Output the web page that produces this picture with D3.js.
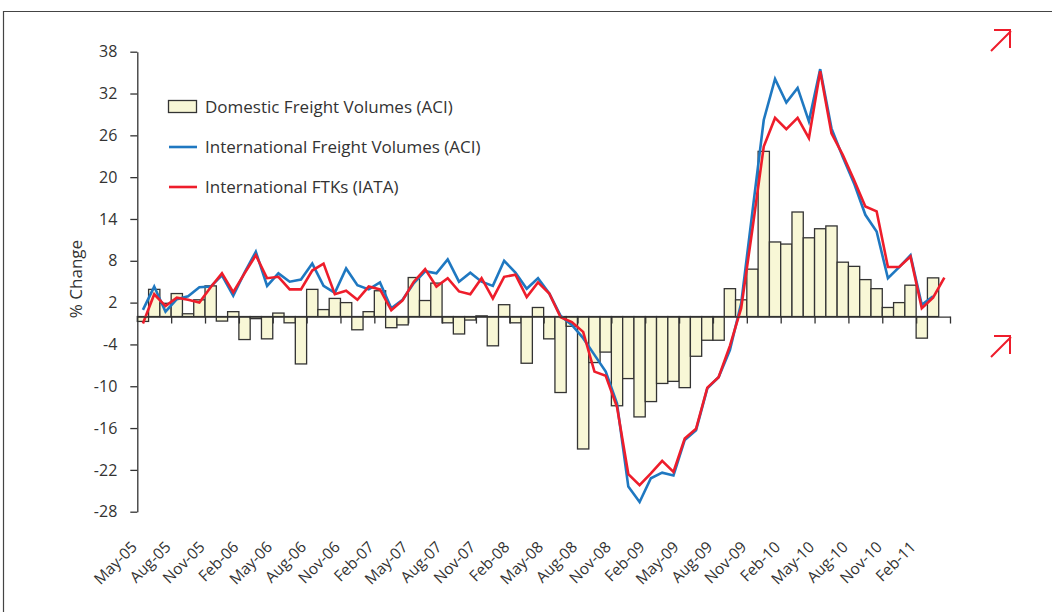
<!DOCTYPE html>
<html>
<head>
<meta charset="utf-8">
<script src="https://cdn.jsdelivr.net/npm/d3@7"></script>
<style>
  body { margin: 0; background: #fff; }
  text { font-family: "Open Sans", "Noto Sans", sans-serif; fill: #333; }
</style>
</head>
<body>
<div id="chart"></div>
<script>
// months May-05 .. Apr-11
var months = [];
var monNames = ["Jan","Feb","Mar","Apr","May","Jun","Jul","Aug","Sep","Oct","Nov","Dec"];
for (var k = 0; k < 72; k++) {
  var m = (4 + k) % 12, yr = 5 + Math.floor((4 + k) / 12);
  months.push(monNames[m] + "-" + (yr < 10 ? "0" + yr : "" + yr));
}

var yTicks = [38, 32, 26, 20, 14, 8, 2, -4, -10, -16, -22, -28];

// Domestic Freight Volumes (ACI), % change
var domestic = [
  -0.7, 3.9, 1.9, 3.3, 0.4, 2.4, 4.4, -0.65, 0.7, -3.3, -0.3, -3.2,
  0.5, -0.9, -6.8, 3.9, 1.0, 2.6, 2.0, -1.9, 0.7, 3.7, -1.6, -1.2,
  5.6, 2.3, 4.8, -0.9, -2.5, -0.5, 0.1, -4.2, 1.7, -0.9, -6.7, 1.3,
  -3.2, -10.9, -1.4, -19.0, -6.6, -5.1, -12.8, -8.9, -14.4, -12.2, -9.6, -9.3,
  -10.2, -5.7, -3.4, -3.4, 4.0, 2.4, 6.8, 23.7, 10.7, 10.4, 15.0, 11.3,
  12.6, 13.0, 7.8, 7.2, 5.3, 4.0, 1.3, 2.0, 4.5, -3.1, 5.55, null
];

// International Freight Volumes (ACI)
var intlACI = [
  0.95, 4.3, 0.7, 2.5, 2.9, 4.2, 4.3, 5.9, 3.0, 6.3, 9.3, 4.4,
  6.2, 5.0, 5.3, 7.6, 4.4, 3.4, 6.9, 4.5, 3.9, 4.9, 1.2, 2.4,
  4.8, 6.5, 6.2, 8.2, 5.0, 6.3, 5.0, 4.4, 8.0, 6.3, 4.0, 5.5,
  3.3, 0.1, -1.2, -3.1, -5.5, -7.9, -12.5, -24.4, -26.6, -23.2, -22.4, -22.8,
  -17.7, -16.3, -10.3, -8.7, -4.8, 1.9, 15.1, 28.2, 34.1, 30.7, 32.8, 28.0,
  35.5, 27.0, 22.9, 19.1, 14.6, 12.2, 5.5, 7.1, 8.8, 1.7, 2.9, null
];

// International FTKs (IATA)
var ftkIATA = [
  -1.0, 3.2, 1.5, 2.7, 2.4, 2.0, 4.2, 6.2, 3.5, 6.2, 8.8, 5.5,
  5.7, 3.9, 3.9, 6.6, 7.6, 3.2, 3.7, 2.4, 4.3, 3.9, 0.9, 2.3,
  5.0, 6.8, 4.3, 5.5, 3.6, 3.2, 5.5, 2.6, 5.7, 6.0, 2.8, 4.9,
  3.3, -0.1, -0.8, -2.2, -7.9, -8.5, -13.0, -22.6, -24.2, -22.5, -20.7, -22.3,
  -17.5, -16.1, -10.2, -8.7, -4.2, 1.2, 12.6, 24.4, 28.5, 26.9, 28.5, 25.6,
  35.2, 26.3, 23.2, 19.6, 15.8, 15.1, 7.1, 7.1, 8.6, 1.2, 2.7, 5.6
];

var legendItems = ["Domestic Freight Volumes (ACI)", "International Freight Volumes (ACI)", "International FTKs (IATA)"];

var W = 1052, H = 612;
var plotL = 137.3, plotR = 950, plotT = 51.7, plotB = 511.7;
var barFill = "#f8f7d6", barStroke = "#333", blue = "#1f78c1", red = "#ee1d2b";

var svg = d3.select("#chart").append("svg")
  .attr("width", W).attr("height", H);

// frame
svg.append("path")
  .attr("d", "M3.5," + H + "V11.5H" + W)
  .attr("fill", "none").attr("stroke", "#444").attr("stroke-width", 1.2);

var x = d3.scaleBand().domain(months).range([plotL, plotR]).padding(0);
var xi = d3.scaleLinear().domain([0, 72]).range([plotL, plotR]);
var y = d3.scaleLinear().domain([-28, 38]).range([plotB, plotT]);

// bars
svg.append("g").selectAll("rect")
  .data(months.map(function (m, i) { return {m: m, v: domestic[i]}; }).filter(function (d) { return d.v !== null; }))
  .enter().append("rect")
    .attr("x", function (d) { return x(d.m); })
    .attr("width", x.bandwidth())
    .attr("y", function (d) { return y(Math.max(0, d.v)); })
    .attr("height", function (d) { return Math.abs(y(d.v) - y(0)); })
    .attr("fill", barFill)
    .attr("stroke", barStroke)
    .attr("stroke-width", 1.3);

// lines
function drawLine(vals, col) {
  var line = d3.line()
    .defined(function (d) { return d !== null; })
    .x(function (d, i) { return x(months[i]) + x.bandwidth() / 2; })
    .y(function (d) { return y(d); });
  svg.append("path")
    .datum(vals)
    .attr("d", line)
    .attr("fill", "none")
    .attr("stroke", col)
    .attr("stroke-width", 2.6);
}
drawLine(intlACI, blue);
drawLine(ftkIATA, red);

// x axis at zero
var xAxis = svg.append("g")
  .attr("transform", "translate(0," + y(0) + ")")
  .call(d3.axisBottom(xi)
    .tickValues(d3.range(3, 73, 3))
    .tickSize(7)
    .tickSizeOuter(0)
    .tickFormat(""));
xAxis.selectAll("path, line").attr("stroke", "#333").attr("stroke-width", 1.3);

// x labels, every third month, at the bottom
svg.append("g").selectAll("text")
  .data(months.filter(function (m, i) { return i % 3 === 0; }))
  .enter().append("text")
    .attr("text-anchor", "end")
    .attr("font-size", 15.5)
    .attr("transform", function (d) {
      return "translate(" + (x(d) + x.bandwidth() / 2 - 5) + ",548) rotate(-45)";
    })
    .text(function (d) { return d; });

// y axis
var yAxis = svg.append("g")
  .attr("transform", "translate(" + plotL + ",0)")
  .call(d3.axisLeft(y)
    .tickValues(yTicks)
    .tickSize(7)
    .tickSizeOuter(0)
    .tickPadding(13)
    .tickFormat(function (d) { return String(d); }));
yAxis.selectAll("path, line").attr("stroke", "#333").attr("stroke-width", 1.3);
yAxis.selectAll("text")
  .attr("font-size", 16)
  .attr("fill", "#333")
  .style("font-family", "'Open Sans', sans-serif");

svg.append("text")
  .attr("transform", "translate(82,279) rotate(-90)")
  .attr("text-anchor", "middle")
  .attr("font-size", 17)
  .text("% Change");

// legend
var lg = svg.append("g");
lg.append("rect")
  .attr("x", 168.5).attr("y", 100.5).attr("width", 28).attr("height", 12)
  .attr("fill", barFill).attr("stroke", barStroke).attr("stroke-width", 1.3);
lg.append("line").attr("x1", 169).attr("x2", 197).attr("y1", 147).attr("y2", 147)
  .attr("stroke", blue).attr("stroke-width", 2.6);
lg.append("line").attr("x1", 169).attr("x2", 197).attr("y1", 187).attr("y2", 187)
  .attr("stroke", red).attr("stroke-width", 2.6);
lg.selectAll("text.lg")
  .data(legendItems)
  .enter().append("text")
    .attr("class", "lg")
    .attr("x", 205)
    .attr("y", function (d, i) { return 113 + i * 40; })
    .attr("font-size", 17)
    .text(function (d) { return d; });

// red arrow marks on the right
function arrow(cx, cy) {
  svg.append("path")
    .attr("d", "M" + (cx - 19) + "," + (cy + 21) + "L" + (cx + 1) + "," + (cy + 1) +
      "M" + (cx - 16) + "," + cy + "H" + cx + "V" + (cy + 18))
    .attr("fill", "none").attr("stroke", red).attr("stroke-width", 2);
}
arrow(1010, 30);
arrow(1010, 336);
</script>
</body>
</html>
